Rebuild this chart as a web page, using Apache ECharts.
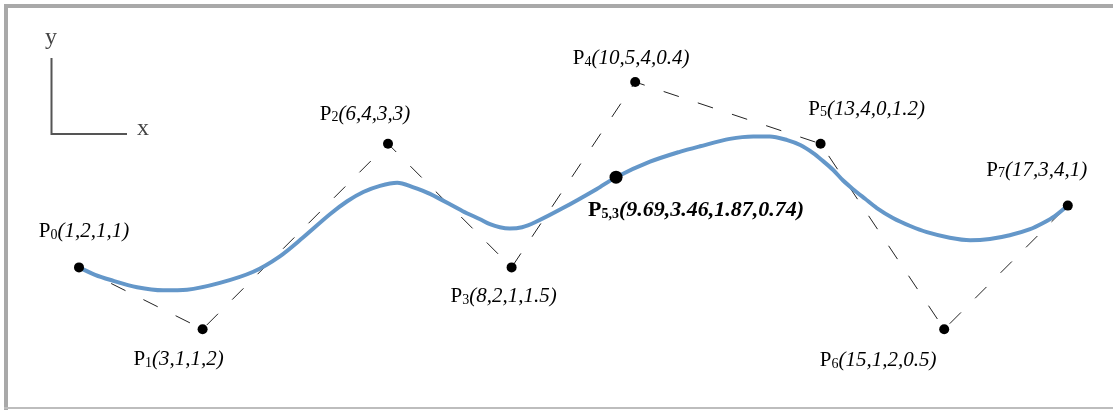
<!DOCTYPE html>
<html>
<head>
<meta charset="utf-8">
<script src="https://cdn.jsdelivr.net/npm/echarts@6/dist/echarts.min.js"></script>
<style>
html,body{margin:0;padding:0;background:#fff;}
#chart{width:1113px;height:410px;}
</style>
</head>
<body>
<div id="chart"></div>
<script>
// Control points (x, y, z, w)
var cpNames = ['0','1','2','3','4','5','6','7'];
var cpX = [1, 3, 6, 8, 10, 13, 15, 17];
var cpY = [2, 1, 4, 2, 5, 4, 1, 3];
var cpZ = [1, 1, 3, 1, 4, 0, 2, 4];
var cpW = [1, 2, 3, 1.5, 0.4, 1.2, 0.5, 1];

// Curve samples
var curveX = [1.00, 1.26, 1.50, 1.94, 2.36, 2.75, 3.28, 3.82, 4.25, 4.62, 5.06, 5.34, 5.60, 5.87, 6.15, 6.40, 6.68, 7.21, 7.49, 7.65, 7.81, 7.97, 8.17, 8.38, 8.83, 9.38, 9.69, 10.24, 10.72, 11.05, 11.53, 11.91, 12.18, 12.46, 12.67, 12.88, 13.04, 13.20, 13.36, 13.52, 13.72, 13.91, 14.17, 14.45, 14.72, 15.09, 15.42, 15.74, 16.06, 16.39, 16.60, 16.79, 17.00];
var curveY = [2.00, 1.88, 1.80, 1.68, 1.63, 1.64, 1.75, 1.93, 2.18, 2.48, 2.86, 3.07, 3.22, 3.32, 3.37, 3.30, 3.19, 2.91, 2.78, 2.70, 2.65, 2.63, 2.65, 2.73, 2.96, 3.27, 3.46, 3.71, 3.87, 3.96, 4.08, 4.12, 4.12, 4.06, 3.98, 3.85, 3.72, 3.58, 3.41, 3.27, 3.11, 2.96, 2.80, 2.67, 2.57, 2.48, 2.44, 2.46, 2.52, 2.62, 2.72, 2.83, 3.00];

// Highlighted point P5,3
var hiName = '5,3';
var hiVals = [9.69, 3.46, 1.87, 0.74];

var serif = '"Liberation Serif","DejaVu Serif",serif';
var labelOffsets = [[5,-37],[-24,29],[-23,-31],[-8,28],[-4,-25],[46,-36],[-66,30],[-31,-37]];

var cpData = cpX.map(function(x, i){
  return {
    value: [x, cpY[i]],
    label: {
      offset: labelOffsets[i],
      formatter: '{p|P}{s|' + cpNames[i] + '}{v|(' + [cpX[i], cpY[i], cpZ[i], cpW[i]].join(',') + ')}'
    }
  };
});

function makeRich(bold, size) {
  var fw = bold ? 'bold' : 'normal';
  return {
    p: {fontFamily: serif, fontSize: size, fontWeight: fw, color: '#000', verticalAlign: 'bottom', lineHeight: 24},
    s: {fontFamily: serif, fontSize: 14, fontWeight: fw, color: '#000', verticalAlign: 'bottom', lineHeight: 6},
    v: {fontFamily: serif, fontSize: size, fontWeight: fw, fontStyle: 'italic', color: '#000', verticalAlign: 'bottom', lineHeight: 24}
  };
}

var chart = echarts.init(document.getElementById('chart'));
chart.setOption({
  backgroundColor: '#fff',
  animation: false,
  grid: {left: 17.2, top: 20.2, width: 1050.6, height: 370.8, containLabel: false},
  xAxis: {type: 'value', min: 0, max: 17, show: false},
  yAxis: {type: 'value', min: 0, max: 6, show: false},
  graphic: [
    {type: 'rect', shape: {x: 4, y: 4, width: 1109, height: 4}, style: {fill: '#a9a9a9'}, silent: true},
    {type: 'rect', shape: {x: 4, y: 4, width: 4, height: 406}, style: {fill: '#a9a9a9'}, silent: true},
    {type: 'rect', shape: {x: 4, y: 407, width: 1109, height: 2}, style: {fill: '#bdbdbd'}, silent: true},
    {type: 'polyline', shape: {points: [[51.5, 58], [51.5, 134], [127, 134]]}, style: {stroke: '#555', lineWidth: 2, fill: null}, silent: true},
    {type: 'text', left: 45, top: 26, style: {text: 'y', font: '24px ' + serif, fill: '#444'}, silent: true},
    {type: 'text', left: 137, top: 117, style: {text: 'x', font: '24px ' + serif, fill: '#444'}, silent: true}
  ],
  series: [
    {
      type: 'line',
      data: cpX.map(function(x, i){ return [x, cpY[i]]; }),
      symbol: 'none',
      lineStyle: {color: '#222', width: 1, type: [16, 20]},
      z: 1
    },
    {
      type: 'line',
      data: curveX.map(function(x, i){ return [x, curveY[i]]; }),
      smooth: 0.3,
      symbol: 'none',
      lineStyle: {color: '#6497c9', width: 4},
      z: 2
    },
    {
      type: 'scatter',
      data: cpData,
      symbolSize: 10,
      itemStyle: {color: '#000', opacity: 1},
      label: {show: true, position: 'inside', align: 'center', verticalAlign: 'middle', rich: makeRich(false, 21)},
      z: 3
    },
    {
      type: 'scatter',
      data: [{
        value: [hiVals[0], hiVals[1]],
        label: {
          offset: [80, 32],
          formatter: '{p|P}{s|' + hiName + '}{v|(' + hiVals.join(',') + ')}'
        }
      }],
      symbolSize: 13,
      itemStyle: {color: '#000', opacity: 1},
      label: {show: true, position: 'inside', align: 'center', verticalAlign: 'middle', rich: makeRich(true, 22)},
      z: 4
    }
  ]
});
</script>
</body>
</html>
